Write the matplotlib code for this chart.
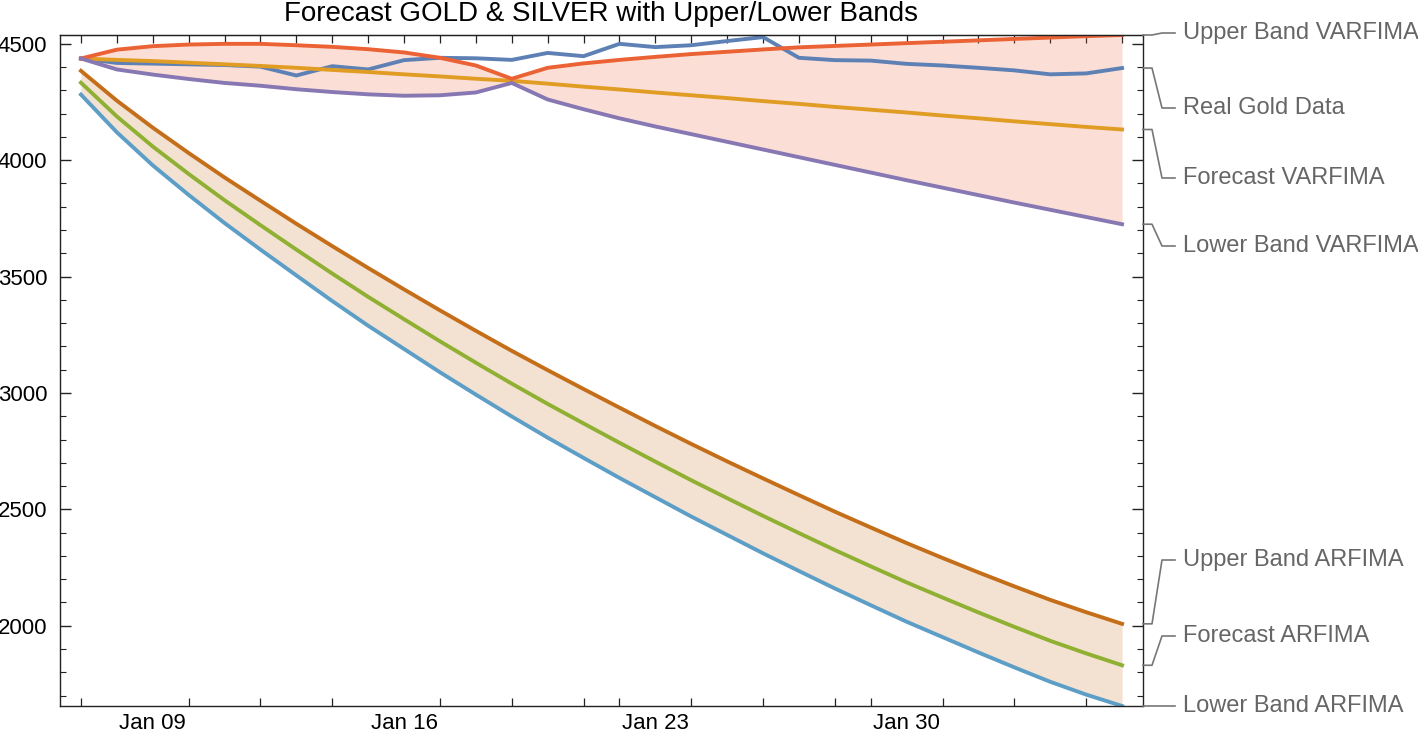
import matplotlib.pyplot as plt
import matplotlib.dates as mdates
from matplotlib.ticker import MultipleLocator, FixedLocator, NullFormatter
from matplotlib.lines import Line2D
from matplotlib.transforms import IdentityTransform
import pandas as pd

plt.rcParams['font.family'] = ['Liberation Sans', 'DejaVu Sans']

# daily points, Jan 07 -> Feb 05
dates = pd.date_range("2026-01-07", periods=30, freq="D")

real_gold = [4437, 4418, 4415, 4412, 4409, 4402, 4364, 4404, 4390, 4430,
             4440, 4438, 4431, 4461, 4447, 4500, 4486, 4494, 4512, 4529,
             4440, 4430, 4428, 4414, 4407, 4397, 4386, 4369, 4373, 4396]
forecast_varfima = [4437, 4431, 4426, 4419, 4412, 4405, 4397, 4388, 4379, 4369,
                    4360, 4350, 4341, 4329, 4316, 4304, 4291, 4279, 4267, 4254,
                    4242, 4229, 4217, 4205, 4192, 4180, 4167, 4155, 4143, 4132]
upper_varfima = [4437, 4475, 4490, 4497, 4500, 4500, 4494, 4487, 4477, 4463,
                 4440, 4407, 4350, 4397, 4416, 4431, 4444, 4456, 4466, 4476,
                 4485, 4491, 4497, 4503, 4509, 4515, 4521, 4527, 4533, 4538]
lower_varfima = [4437, 4390, 4368, 4349, 4332, 4320, 4305, 4293, 4283, 4277,
                 4279, 4291, 4332, 4261, 4219, 4180, 4145, 4112, 4079, 4046,
                 4013, 3980, 3947, 3914, 3882, 3850, 3818, 3787, 3756, 3725]
forecast_arfima = [4333, 4188, 4059, 3941, 3828, 3721, 3616, 3513, 3413, 3317,
                   3222, 3130, 3040, 2953, 2869, 2786, 2705, 2625, 2548, 2472,
                   2398, 2325, 2255, 2186, 2121, 2057, 1995, 1935, 1881, 1830]
upper_arfima = [4384, 4256, 4140, 4031, 3926, 3826, 3727, 3631, 3537, 3445,
                3355, 3267, 3181, 3098, 3017, 2937, 2858, 2781, 2706, 2633,
                2561, 2490, 2422, 2355, 2291, 2229, 2169, 2111, 2058, 2008]
lower_arfima = [4282, 4120, 3978, 3851, 3730, 3616, 3505, 3395, 3289, 3189,
                3089, 2993, 2899, 2808, 2721, 2635, 2552, 2469, 2390, 2311,
                2235, 2160, 2088, 2017, 1951, 1885, 1821, 1759, 1704, 1655]

label_dates = ["2026-01-09", "2026-01-16", "2026-01-23", "2026-01-30"]
bottom_tick_dates = ["2026-01-07", "2026-01-09", "2026-01-10", "2026-01-12",
                     "2026-01-14", "2026-01-16", "2026-01-17", "2026-01-19",
                     "2026-01-21", "2026-01-22", "2026-01-23", "2026-01-24",
                     "2026-01-26", "2026-01-28", "2026-01-29", "2026-01-31",
                     "2026-02-02", "2026-02-04"]

series = [
    ("Real Gold Data", real_gold, "#5E81B5"),
    ("Forecast VARFIMA", forecast_varfima, "#E19C24"),
    ("Forecast ARFIMA", forecast_arfima, "#8FB032"),
    ("Upper Band VARFIMA", upper_varfima, "#EB6235"),
    ("Lower Band VARFIMA", lower_varfima, "#8778B3"),
    ("Upper Band ARFIMA", upper_arfima, "#C56E1A"),
    ("Lower Band ARFIMA", lower_arfima, "#5D9EC7"),
]
# callout label heights (pixels from top of the image)
label_rows = {"Upper Band VARFIMA": 33, "Real Gold Data": 108, "Forecast VARFIMA": 178,
              "Lower Band VARFIMA": 246, "Upper Band ARFIMA": 560,
              "Forecast ARFIMA": 636, "Lower Band ARFIMA": 706}

W, H = 1418, 732
fig = plt.figure(figsize=(W / 100, H / 100), dpi=100)
ax = fig.add_axes([60 / W, 1 - 706 / H, (1143 - 60) / W, (706 - 35) / H])

ax.fill_between(dates, lower_varfima, upper_varfima, color="#EB6235", alpha=0.2, lw=0)
ax.fill_between(dates, lower_arfima, upper_arfima, color="#C56E1A", alpha=0.2, lw=0)
for name, vals, col in series:
    ax.plot(dates, vals, color=col, lw=2.8, solid_joinstyle='round')

all_vals = [v for _, vals, _ in series for v in vals]
ax.set_ylim(min(all_vals), max(all_vals))
pad = pd.Timedelta(hours=14)
ax.set_xlim(dates[0] - pad, dates[-1] + pad)

frame_col = "#222222"
for s in ax.spines.values():
    s.set_color(frame_col)
    s.set_linewidth(1.0)

ax.yaxis.set_major_locator(MultipleLocator(500))
ax.yaxis.set_minor_locator(MultipleLocator(100))
ax.tick_params(axis='y', which='both', direction='in', left=True, right=True,
               color=frame_col, labelsize=16, pad=9)
ax.tick_params(axis='y', which='major', length=8, width=1)
ax.tick_params(axis='y', which='minor', length=4.5, width=0.8)

ax.xaxis.set_major_locator(FixedLocator(mdates.date2num(pd.to_datetime(label_dates))))
ax.xaxis.set_minor_locator(FixedLocator(mdates.date2num(pd.to_datetime(bottom_tick_dates))))
ax.xaxis.set_major_formatter(mdates.DateFormatter('%b %d'))
ax.xaxis.set_minor_formatter(NullFormatter())
ax.tick_params(axis='x', which='major', length=0, labelsize=16, pad=5)
ax.tick_params(axis='x', which='minor', direction='in', length=5.5, width=0.9, color=frame_col)

top = ax.secondary_xaxis('top')
top.xaxis.set_major_locator(mdates.DayLocator())
top.tick_params(direction='in', length=5.5, width=0.9, color=frame_col, labeltop=False)
top.spines['top'].set_color(frame_col)

fig.text((60 + 1143) / 2 / W, 1 - 14 / H, "Forecast GOLD & SILVER with Upper/Lower Bands",
         ha='center', va='center', fontsize=20)

# callouts on the right side
fig.canvas.draw()
x_frame = ax.get_window_extent().x1
last_x = mdates.date2num(dates[-1])
for name, vals, col in series:
    y0 = ax.transData.transform((last_x, vals[-1]))[1]
    y1 = H - label_rows[name]
    xs = [x_frame, x_frame + 9, x_frame + 19, x_frame + 32]
    ys = [y0, y0, y1, y1]
    fig.add_artist(Line2D(xs, ys, transform=IdentityTransform(), color="#777777", lw=1.2))
    fig.text((x_frame + 40) / W, y1 / H, name, ha='left', va='center',
             fontsize=17, color="#666666")

fig.savefig("out.png", dpi=100)
